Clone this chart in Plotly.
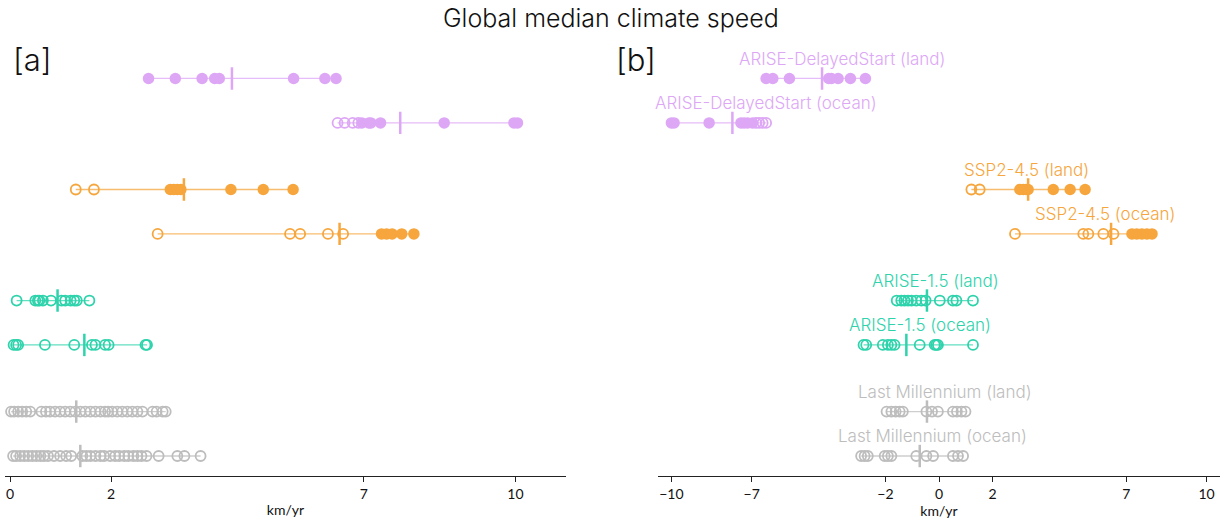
import plotly.graph_objects as go

# ---------------- data ----------------
groups = ["ARISE-DelayedStart", "SSP2-4.5", "ARISE-1.5", "Last Millennium"]
group_colors = ["#DDA7F6", "#F6A63D", "#2ED3AC", "#BDBDBD"]
group_pos = [3, 2, 1, 0]
kinds = ["land", "ocean"]
kind_offset = [0.2, -0.2]

# panel a (magnitudes)
a_vals = {
    ("ARISE-DelayedStart", "land"): [2.74, 3.27, 3.80, 4.05, 4.14, 5.61, 6.23, 6.45],
    ("ARISE-DelayedStart", "ocean"): [6.48, 6.62, 6.78, 6.89, 6.96, 7.10, 7.14, 7.33, 8.59, 9.97, 10.04],
    ("SSP2-4.5", "land"): [1.30, 1.66, 3.17, 3.24, 3.31, 3.38, 4.37, 5.01, 5.60],
    ("SSP2-4.5", "ocean"): [2.92, 5.54, 5.74, 6.29, 6.59, 7.35, 7.45, 7.56, 7.75, 7.99],
    ("ARISE-1.5", "land"): [0.13, 0.50, 0.55, 0.58, 0.65, 0.81, 1.02, 1.09, 1.20, 1.27, 1.32, 1.57],
    ("ARISE-1.5", "ocean"): [0.07, 0.12, 0.16, 0.69, 1.27, 1.62, 1.69, 1.88, 1.95, 2.68, 2.71],
    ("Last Millennium", "land"): [0.02, 0.08, 0.16, 0.24, 0.32, 0.40, 0.62, 0.71, 0.79, 0.89, 0.99,
                                  1.09, 1.19, 1.29, 1.39, 1.49, 1.59, 1.69, 1.79, 1.88, 1.94, 2.02,
                                  2.12, 2.22, 2.32, 2.42, 2.52, 2.62, 2.82, 2.90, 3.02, 3.08],
    ("Last Millennium", "ocean"): [0.06, 0.12, 0.20, 0.28, 0.36, 0.44, 0.52, 0.60, 0.67, 0.75, 0.87,
                                   0.99, 1.11, 1.21, 1.43, 1.51, 1.59, 1.69, 1.79, 1.86, 1.98, 2.08,
                                   2.16, 2.26, 2.34, 2.44, 2.52, 2.60, 2.70, 2.94, 3.31, 3.45, 3.77],
}
a_open = {
    ("ARISE-DelayedStart", "land"): [0] * 8,
    ("ARISE-DelayedStart", "ocean"): [1, 1, 1, 1, 0, 0, 0, 0, 0, 0, 0],
    ("SSP2-4.5", "land"): [1, 1, 0, 0, 0, 0, 0, 0, 0],
    ("SSP2-4.5", "ocean"): [1, 1, 1, 1, 1, 0, 0, 0, 0, 0],
    ("ARISE-1.5", "land"): [1] * 12,
    ("ARISE-1.5", "ocean"): [1] * 11,
    ("Last Millennium", "land"): [1] * 32,
    ("Last Millennium", "ocean"): [1] * 33,
}
a_median = {
    ("ARISE-DelayedStart", "land"): 4.39,
    ("ARISE-DelayedStart", "ocean"): 7.72,
    ("SSP2-4.5", "land"): 3.44,
    ("SSP2-4.5", "ocean"): 6.52,
    ("ARISE-1.5", "land"): 0.94,
    ("ARISE-1.5", "ocean"): 1.47,
    ("Last Millennium", "land"): 1.31,
    ("Last Millennium", "ocean"): 1.39,
}

# panel b (signed)
b_vals = {
    ("ARISE-DelayedStart", "land"): [-6.46, -6.21, -5.59, -4.12, -4.02, -3.77, -3.31, -2.75],
    ("ARISE-DelayedStart", "ocean"): [-10.0, -9.90, -8.59, -7.40, -7.28, -7.15, -6.97, -6.84, -6.72, -6.59, -6.46],
    ("SSP2-4.5", "land"): [1.21, 1.52, 3.02, 3.15, 3.25, 3.33, 4.27, 4.90, 5.46],
    ("SSP2-4.5", "ocean"): [2.84, 5.39, 5.58, 6.14, 6.52, 7.21, 7.39, 7.58, 7.77, 7.96],
    ("ARISE-1.5", "land"): [-1.58, -1.41, -1.29, -1.16, -1.03, -0.85, -0.66, -0.50, 0.03, 0.52, 0.65, 1.27],
    ("ARISE-1.5", "ocean"): [-2.82, -2.72, -2.10, -1.91, -1.78, -1.66, -0.72, -0.16, -0.10, -0.04, 1.27],
    ("Last Millennium", "land"): [-1.96, -1.78, -1.62, -1.47, -1.35, -0.47, -0.26, -0.04, 0.52, 0.67, 0.84, 0.99],
    ("Last Millennium", "ocean"): [-2.91, -2.78, -2.66, -2.03, -1.91, -1.78, -0.85, -0.47, -0.22, 0.52, 0.71, 0.90],
}
b_open = {
    ("ARISE-DelayedStart", "land"): [0] * 8,
    ("ARISE-DelayedStart", "ocean"): [0, 0, 0, 0, 0, 0, 0, 1, 1, 1, 1],
    ("SSP2-4.5", "land"): [1, 1, 0, 0, 0, 0, 0, 0, 0],
    ("SSP2-4.5", "ocean"): [1, 1, 1, 1, 1, 0, 0, 0, 0, 0],
    ("ARISE-1.5", "land"): [1] * 12,
    ("ARISE-1.5", "ocean"): [1] * 11,
    ("Last Millennium", "land"): [1] * 12,
    ("Last Millennium", "ocean"): [1] * 12,
}
b_median = {
    ("ARISE-DelayedStart", "land"): -4.37,
    ("ARISE-DelayedStart", "ocean"): -7.72,
    ("SSP2-4.5", "land"): 3.33,
    ("SSP2-4.5", "ocean"): 6.43,
    ("ARISE-1.5", "land"): -0.45,
    ("ARISE-1.5", "ocean"): -1.22,
    ("Last Millennium", "land"): -0.45,
    ("Last Millennium", "ocean"): -0.72,
}
# label centres (km/yr) for panel b
b_label_x = {
    ("ARISE-DelayedStart", "land"): -3.64,
    ("ARISE-DelayedStart", "ocean"): -6.46,
    ("SSP2-4.5", "land"): 3.27,
    ("SSP2-4.5", "ocean"): 6.2,
    ("ARISE-1.5", "land"): -0.12,
    ("ARISE-1.5", "ocean"): -0.72,
    ("Last Millennium", "land"): 0.22,
    ("Last Millennium", "ocean"): -0.24,
}

a_ticks = [0, 2, 7, 10]
b_ticks = [-10, -7, -2, 0, 2, 7, 10]

FONT = "Lato"
TFONT = "Inter"


def hex_rgba(h, a):
    h = h.lstrip("#")
    r, g, b = int(h[0:2], 16), int(h[2:4], 16), int(h[4:6], 16)
    return f"rgba({r},{g},{b},{a})"


fig = go.Figure()


def add_row(vals, opens, med, y, color, xa, ya):
    fig.add_trace(go.Scatter(x=[min(vals), max(vals)], y=[y, y], mode="lines",
                             line=dict(color=hex_rgba(color, 0.75), width=1.3),
                             xaxis=xa, yaxis=ya, hoverinfo="skip", showlegend=False))
    xo = [v for v, o in zip(vals, opens) if o]
    xf = [v for v, o in zip(vals, opens) if not o]
    if xo:
        fig.add_trace(go.Scatter(x=xo, y=[y] * len(xo), mode="markers",
                                 marker=dict(symbol="circle-open", size=10, color=color,
                                             line=dict(color=color, width=1.8)),
                                 xaxis=xa, yaxis=ya, showlegend=False))
    if xf:
        fig.add_trace(go.Scatter(x=xf, y=[y] * len(xf), mode="markers",
                                 marker=dict(symbol="circle", size=11.5, color=color,
                                             line=dict(width=0)),
                                 xaxis=xa, yaxis=ya, showlegend=False))
    fig.add_trace(go.Scatter(x=[med], y=[y], mode="markers",
                             marker=dict(symbol="line-ns", size=16, color=color,
                                         line=dict(color=color, width=2.5)),
                             xaxis=xa, yaxis=ya, showlegend=False))


for g, gp, col in zip(groups, group_pos, group_colors):
    for k, ko in zip(kinds, kind_offset):
        key = (g, k)
        y = gp + ko
        add_row(a_vals[key], a_open[key], a_median[key], y, col, "x", "y")
        add_row(b_vals[key], b_open[key], b_median[key], y, col, "x2", "y2")
        fig.add_annotation(x=b_label_x[key], y=y + 0.176, xref="x2", yref="y2",
                           text=f"{g} ({k})", showarrow=False,
                           font=dict(family=TFONT, size=17, color=col, weight=300),
                           xanchor="center", yanchor="middle")

axis_common = dict(showgrid=False, zeroline=False, showline=True, linecolor="#222",
                   linewidth=1.2, ticks="outside", ticklen=5, tickcolor="#222",
                   tickfont=dict(family=FONT, size=14, color="#111"),
                   title=dict(text="km/yr", font=dict(family=FONT, size=14, color="#111"), standoff=4),
                   automargin=False)
yaxis_common = dict(range=[-0.38, 3.5], domain=[0.0829, 0.913], visible=False, fixedrange=True)

fig.update_layout(
    width=1221, height=519,
    margin=dict(l=0, r=0, t=0, b=0),
    plot_bgcolor="white", paper_bgcolor="white",
    showlegend=False,
    xaxis=dict(domain=[5 / 1221, 566 / 1221], range=[-0.1, 11.0], tickvals=a_ticks,
               anchor="y", **axis_common),
    xaxis2=dict(domain=[658 / 1221, 1220 / 1221], range=[-10.5, 10.5], tickvals=b_ticks,
                anchor="y2", **axis_common),
    yaxis=dict(anchor="x", **yaxis_common),
    yaxis2=dict(anchor="x2", **yaxis_common),
    annotations=list(fig.layout.annotations) + [
        dict(text="Global median climate speed", x=610.5 / 1221, y=1 - 18 / 519, xref="paper", yref="paper",
             showarrow=False, xanchor="center", yanchor="middle",
             font=dict(family=TFONT, size=25, color="#111", weight=300)),
        dict(text="[a]", x=32 / 1221, y=1 - 60 / 519, xref="paper", yref="paper",
             showarrow=False, xanchor="center", yanchor="middle",
             font=dict(family=TFONT, size=31, color="#111", weight=300)),
        dict(text="[b]", x=636 / 1221, y=1 - 60 / 519, xref="paper", yref="paper",
             showarrow=False, xanchor="center", yanchor="middle",
             font=dict(family=TFONT, size=31, color="#111", weight=300)),
    ],
)

fig.write_html("out.html")
